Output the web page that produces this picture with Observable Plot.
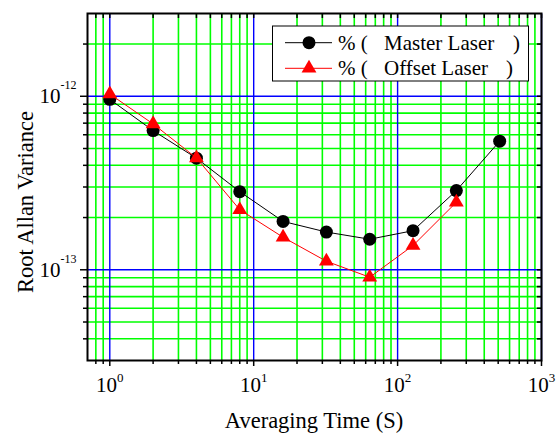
<!DOCTYPE html>
<html><head><meta charset="utf-8">
<script src="https://cdn.jsdelivr.net/npm/d3@7"></script>
<script src="https://cdn.jsdelivr.net/npm/@observablehq/plot@0.6"></script>
<style>body{margin:0;background:#fff}#chart{width:556px;height:435px}
#chart svg, #chart svg text, #chart svg tspan{font-family:"Liberation Serif","DejaVu Serif","Noto Serif","FreeSerif","Nimbus Roman","Nimbus Roman No9 L","Tinos","Times New Roman",Times,Georgia,serif !important}</style>
</head><body><div id="chart"></div>
<script>
// Data
const tauMaster = [1, 2, 4, 8, 16, 32, 64, 128, 256, 512];
const masterLaser = [9.6e-13, 6.34e-13, 4.4e-13, 2.82e-13, 1.90e-13, 1.65e-13, 1.50e-13, 1.68e-13, 2.86e-13, 5.51e-13];
const tauOffset = [1, 2, 4, 8, 16, 32, 64, 128, 256];
const offsetLaser = [1.03e-12, 6.93e-13, 4.41e-13, 2.22e-13, 1.54e-13, 1.12e-13, 9.06e-14, 1.38e-13, 2.45e-13];
const seriesNames = ["% (   Master Laser   )", "% (   Offset Laser   )"];
// Ticks / grid
const xMajor = [1, 10, 100, 1000];
const xMinor = [0.8, 0.9, 2, 3, 4, 5, 6, 7, 8, 9, 20, 30, 40, 50, 60, 70, 80, 90, 200, 300, 400, 500, 600, 700, 800, 900];
const yMajor = [1e-13, 1e-12];
const yMinor = [4e-14, 5e-14, 6e-14, 7e-14, 8e-14, 9e-14, 2e-13, 3e-13, 4e-13, 5e-13, 6e-13, 7e-13, 8e-13, 9e-13, 2e-12];
const xTitle = "Averaging Time (S)";
const yTitle = "Root Allan Variance";

const masterData = tauMaster.map((t, i) => ({t, v: masterLaser[i]}));
const offsetData = tauOffset.map((t, i) => ({t, v: offsetLaser[i]}));
const serif = '"Liberation Serif","DejaVu Serif","Noto Serif","Times New Roman",serif';
const pow = d => "10^" + Math.round(Math.log10(d));
const blank = () => "";

const plot = Plot.plot({
  width: 556, height: 435,
  marginLeft: 87, marginRight: 15, marginTop: 13, marginBottom: 75,
  style: {fontSize: "21px", background: "white", color: "black"},
  x: {type: "log", domain: [0.7, 1000]},
  y: {type: "log", domain: [3e-14, 3e-12]},
  marks: [
    Plot.ruleX(xMinor, {stroke: "#00ff00", strokeWidth: 1.6}),
    Plot.ruleY(yMinor, {stroke: "#00ff00", strokeWidth: 1.6}),
    Plot.ruleX(xMajor, {stroke: "#0000ff", strokeWidth: 1.4}),
    Plot.ruleY(yMajor, {stroke: "#0000ff", strokeWidth: 1.4}),
    Plot.axisX({ticks: xMajor, anchor: "bottom", tickSize: 6, tickPadding: 11, tickFormat: pow, fontSize: 21, label: null, strokeWidth: 1.5}),
    Plot.axisX({ticks: xMinor, anchor: "bottom", tickSize: 4, tickFormat: blank, label: null, strokeWidth: 1.5}),
    Plot.axisX({ticks: [...xMajor, ...xMinor], anchor: "top", tickSize: -4, tickFormat: blank, label: null, strokeWidth: 1.5}),
    Plot.axisY({ticks: yMajor, anchor: "left", tickSize: 7, tickPadding: 4, tickFormat: pow, fontSize: 21, label: null, strokeWidth: 1.5}),
    Plot.axisY({ticks: yMinor, anchor: "left", tickSize: 4, tickFormat: blank, label: null, strokeWidth: 1.5}),
    Plot.axisY({ticks: [...yMajor, ...yMinor], anchor: "right", tickSize: -5, tickFormat: blank, label: null, strokeWidth: 1.5}),
    Plot.frame({stroke: "black", strokeWidth: 2}),
    Plot.line(masterData, {x: "t", y: "v", stroke: "black", strokeWidth: 1}),
    Plot.dot(masterData, {x: "t", y: "v", r: 6.5, fill: "black", symbol: "circle"}),
    Plot.line(offsetData, {x: "t", y: "v", stroke: "red", strokeWidth: 1}),
    Plot.dot(offsetData, {x: "t", y: "v", r: 5.5, fill: "red", symbol: "triangle"})
  ]
});

const svg = d3.select(plot);
svg.attr("font-family", serif);
// superscripts on tick labels
function supify(sel, size, raise) {
  sel.each(function () {
    const s = this.textContent;
    if (!s.includes("^")) return;
    const [b, e] = s.split("^");
    const t = d3.select(this);
    t.text(null);
    t.append("tspan").text(b);
    t.append("tspan").attr("font-size", size).attr("dy", -raise).text(e);
  });
}
supify(svg.selectAll('g[aria-label="x-axis tick label"] text'), 13, 10);
supify(svg.selectAll('g[aria-label="y-axis tick label"] text'), 12, 14);

// titles
svg.append("text").attr("x", 314).attr("y", 428).attr("text-anchor", "middle")
  .attr("font-size", 22.5).attr("fill", "black").text(xTitle);
svg.append("text").attr("transform", "translate(33,202) rotate(-90)").attr("text-anchor", "middle")
  .attr("font-size", 22.5).attr("fill", "black").text(yTitle);

// legend
const lg = svg.append("g").attr("font-size", 21).attr("fill", "black").attr("text-anchor", "start");
lg.append("rect").attr("x", 272.5).attr("y", 26).attr("width", 256).attr("height", 55)
  .attr("fill", "white").attr("stroke", "black").attr("stroke-width", 1);
const rows = [{c: "black", sym: d3.symbolCircle, size: Math.PI * 6.5 * 6.5, cy: 42.7},
              {c: "red", sym: d3.symbolTriangle, size: Math.PI * 5.5 * 5.5, cy: 68.3}];
rows.forEach((r, i) => {
  lg.append("line").attr("x1", 285).attr("x2", 332).attr("y1", r.cy).attr("y2", r.cy)
    .attr("stroke", r.c).attr("stroke-width", 1);
  lg.append("path").attr("d", d3.symbol(r.sym, r.size)()).attr("transform", `translate(309,${r.cy})`).attr("fill", r.c);
  const parts = seriesNames[i].match(/^(%\s*\()\s*(.*?)\s*(\))$/);
  const by = r.cy + 7;
  lg.append("text").attr("x", 338).attr("y", by).text(parts[1]);
  lg.append("text").attr("x", 384).attr("y", by).text(parts[2]);
  lg.append("text").attr("x", i === 0 ? 513 : 506).attr("y", by).text(parts[3]);
});

document.getElementById("chart").appendChild(plot);
</script></body></html>
